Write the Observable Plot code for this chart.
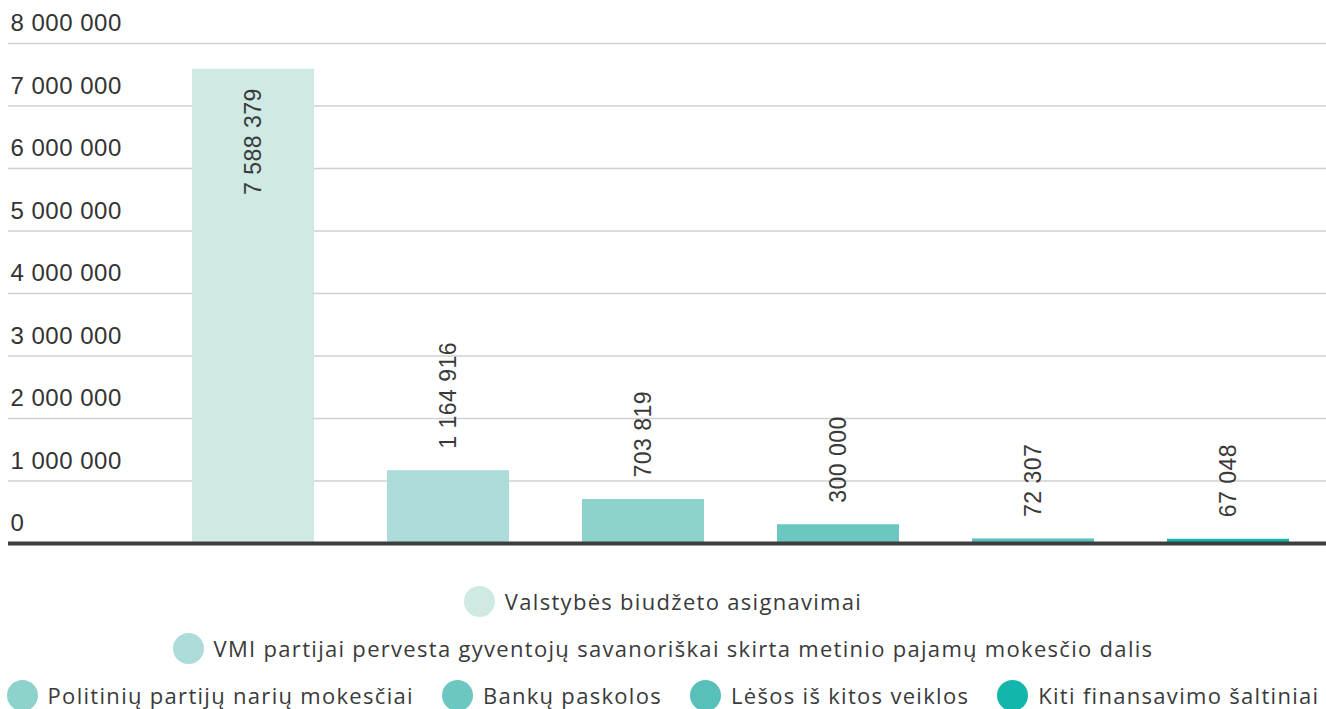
<!DOCTYPE html>
<html><head><meta charset="utf-8">
<script src="https://cdn.jsdelivr.net/npm/d3@7"></script>
<script src="https://cdn.jsdelivr.net/npm/@observablehq/plot@0.6"></script>
<style>
body{margin:0;background:#fff;}
#chart svg{display:block;}
.legend{display:flex;flex-wrap:wrap;justify-content:center;column-gap:28px;row-gap:15px;width:1326px;margin-top:25px;font-family:"Open Sans","Noto Sans",sans-serif;font-size:22px;letter-spacing:1.3px;color:#3a3a3a;}
.item{display:flex;align-items:center;gap:10px;height:32px;}
.sw{width:31px;height:31px;border-radius:50%;flex:none;}
</style>
</head><body>
<div id="chart"></div>
<script>
const categories = [
  "Valstybės biudžeto asignavimai",
  "VMI partijai pervesta gyventojų savanoriškai skirta metinio pajamų mokesčio dalis",
  "Politinių partijų narių mokesčiai",
  "Bankų paskolos",
  "Lėšos iš kitos veiklos",
  "Kiti finansavimo šaltiniai"
];
const values = [7588379, 1164916, 703819, 300000, 72307, 67048];
const colors = ["#cfe9e4", "#acdcd9", "#8dd3cc", "#6cc7c0", "#58c0b8", "#13b6aa"];
const yTicks = [0, 1000000, 2000000, 3000000, 4000000, 5000000, 6000000, 7000000, 8000000];

const loc = d3.formatLocale({decimal: ",", thousands: " ", grouping: [3], currency: ["", ""]});
const fmt = loc.format(",d");
const data = categories.map((c, i) => ({category: c, value: values[i]}));
const maxV = d3.max(values);
const numFont = "'Liberation Sans', Arial, sans-serif";

const plot = Plot.plot({
  width: 1326,
  height: 560,
  marginTop: 43,
  marginBottom: 17,
  marginLeft: 8,
  marginRight: 0,
  x: {domain: categories, range: [155, 1326], paddingInner: 0.375, paddingOuter: 0.1875, axis: null},
  y: {domain: [0, 8000000], axis: null},
  color: {domain: categories, range: colors},
  marks: [
    Plot.ruleY(yTicks.filter(d => d > 0), {stroke: "#d0d0d0", strokeWidth: 1.6}),
    Plot.text(yTicks, {y: d => d, text: d => fmt(d), frameAnchor: "left", textAnchor: "start", dx: 2, dy: -20, fill: "#333", fontSize: 24, fontFamily: numFont}),
    Plot.barY(data, {x: "category", y: "value", fill: "category"}),
    Plot.ruleY([0], {stroke: "#3d3d3d", strokeWidth: 4}),
    Plot.text(data.filter(d => d.value === maxV), {x: "category", y: "value", text: d => fmt(d.value), rotate: -90, textAnchor: "end", dy: 19, fill: "#3a3a3a", fontSize: 23, fontFamily: numFont}),
    Plot.text(data.filter(d => d.value !== maxV), {x: "category", y: "value", text: d => fmt(d.value), rotate: -90, textAnchor: "start", dy: -22, fill: "#3a3a3a", fontSize: 23, fontFamily: numFont})
  ]
});
plot.querySelectorAll("text").forEach(t => t.style.letterSpacing = "0.5px");
const chart = document.getElementById("chart");
chart.appendChild(plot);

const legend = document.createElement("div");
legend.className = "legend";
categories.forEach((c, i) => {
  const item = document.createElement("div");
  item.className = "item";
  const sw = document.createElement("span");
  sw.className = "sw";
  sw.style.background = colors[i];
  const t = document.createElement("span");
  t.textContent = c;
  item.appendChild(sw); item.appendChild(t);
  legend.appendChild(item);
});
chart.appendChild(legend);
</script>
</body></html>
